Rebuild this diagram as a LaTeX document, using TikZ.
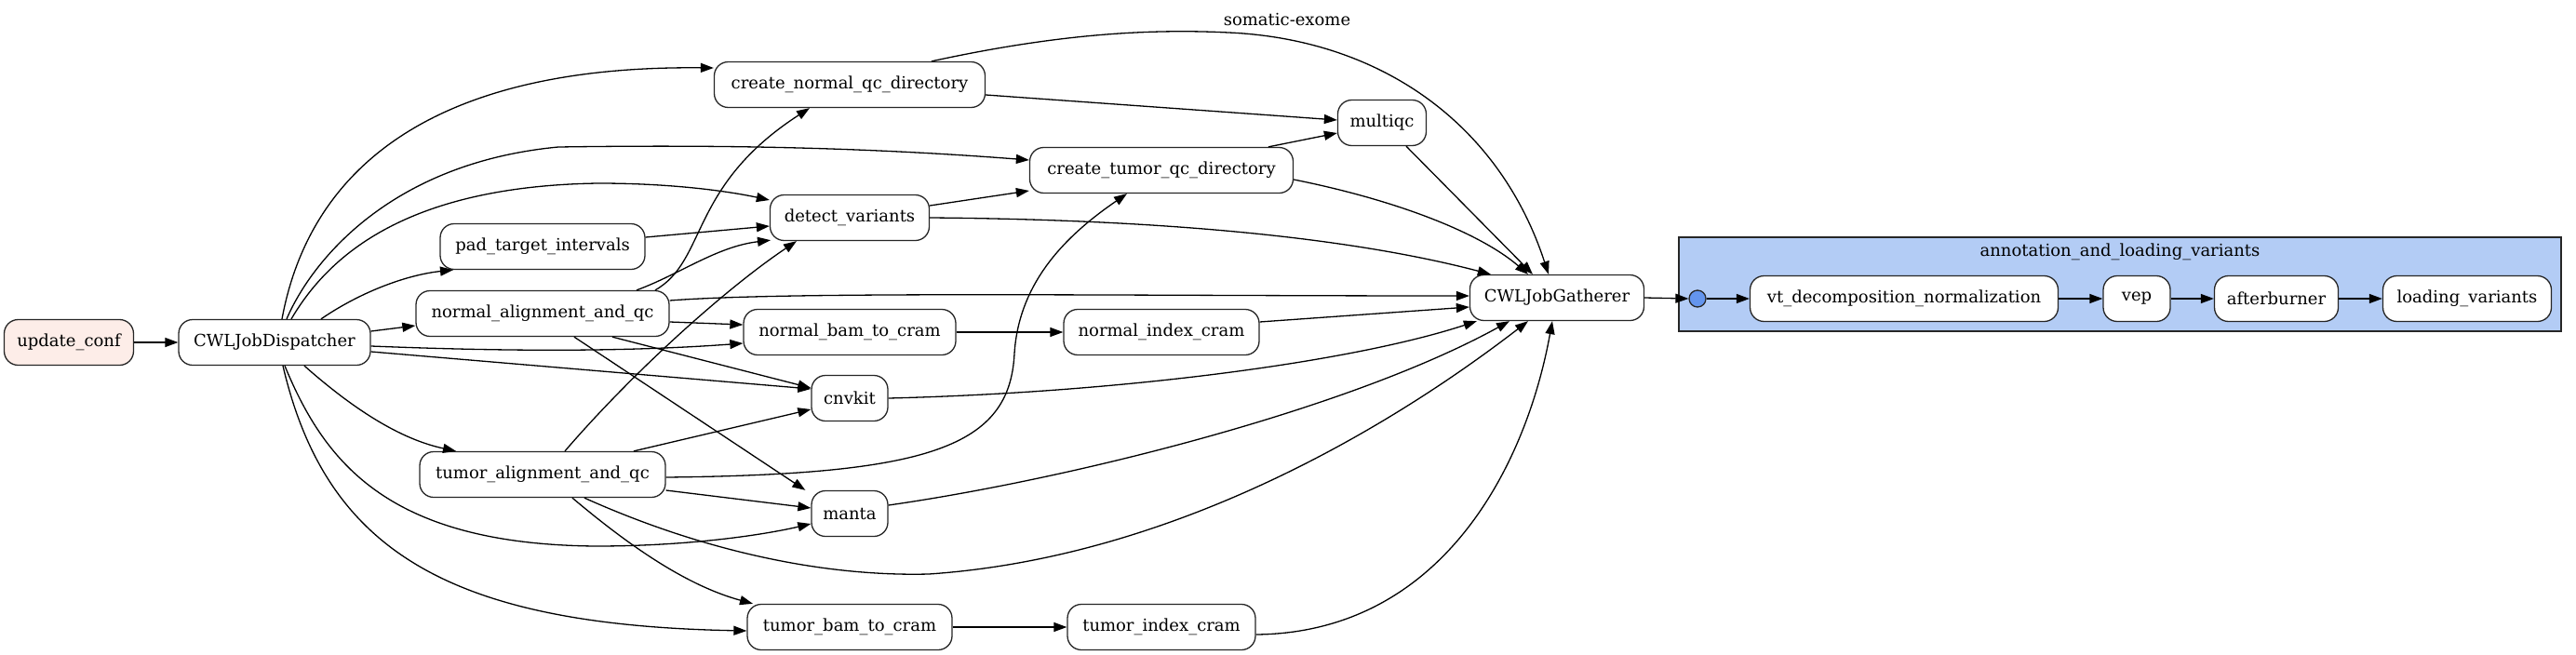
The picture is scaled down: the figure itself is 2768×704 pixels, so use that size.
\documentclass[tikz,border=0pt]{standalone}
\usepackage{fontspec}
\setmainfont{DejaVu Serif}
\usetikzlibrary{arrows.meta,calc}
\definecolor{confpink}{RGB}{253,237,232}
\definecolor{clusterblue}{RGB}{179,204,245}
\definecolor{dotblue}{RGB}{100,149,237}
\begin{document}
\begin{tikzpicture}[x=1pt,y=-1pt,
  job/.style={draw=black!85,line width=1.3pt,rounded corners=15pt,fill=white,minimum height=49pt,inner sep=0pt,font=\fontsize{18}{21}\selectfont},
  edge/.style={line width=1.3pt,-{Triangle[length=14pt,width=10pt]}},
  lbl/.style={font=\fontsize{18}{21}\selectfont,inner sep=0pt}]
\useasboundingbox (0,0) rectangle (2768,704);
% cluster
\draw[fill=clusterblue,draw=black!85,line width=1.3pt] (1804,255) rectangle (2752,356);
\node[lbl] (clab) at (2278,271) {annotation\_and\_loading\_variants};
\node[lbl] (title) at (1383,21) {somatic-exome};
% nodes
\node[job,fill=confpink,minimum width=139pt] (upd) at (74,368) {update\_conf};
\node[job,minimum width=206pt] (disp) at (295,368) {CWLJobDispatcher};
\node[job,minimum width=220pt] (pad) at (583,265) {pad\_target\_intervals};
\node[job,minimum width=272pt] (nal) at (583,337) {normal\_alignment\_and\_qc};
\node[job,minimum width=264pt] (tal) at (583,510) {tumor\_alignment\_and\_qc};
\node[job,minimum width=291pt] (cnq) at (913,91) {create\_normal\_qc\_directory};
\node[job,minimum width=283pt] (ctq) at (1248,183) {create\_tumor\_qc\_directory};
\node[job,minimum width=171pt] (dv) at (913,234) {detect\_variants};
\node[job,minimum width=228pt] (nbc) at (913,357) {normal\_bam\_to\_cram};
\node[job,minimum width=210pt] (nic) at (1248,357) {normal\_index\_cram};
\node[job,minimum width=82pt] (cnv) at (913,428) {cnvkit};
\node[job,minimum width=82pt] (man) at (913,552) {manta};
\node[job,minimum width=220pt] (tbc) at (913,674) {tumor\_bam\_to\_cram};
\node[job,minimum width=202pt] (tic) at (1248,674) {tumor\_index\_cram};
\node[job,minimum width=95pt] (mqc) at (1485,132) {multiqc};
\node[job,minimum width=187pt] (gat) at (1673,320) {CWLJobGatherer};
\node[draw=black!85,line width=1.3pt,fill=dotblue,circle,minimum size=18pt,inner sep=0pt] (circ) at (1824,321) {};
\node[job,minimum width=331pt] (vt) at (2046,321) {vt\_decomposition\_normalization};
\node[job,minimum width=72pt] (vep) at (2296,321) {vep};
\node[job,minimum width=133pt] (aft) at (2446,321) {afterburner};
\node[job,minimum width=181pt] (lv) at (2651,321) {loading\_variants};
% edges
\draw[edge] (upd.east) -- (disp.west);
\draw[edge] ($(disp.north)+(8,0)$) .. controls (335,170) and (480,70) .. ($(cnq.west)+(0,-18)$);
\draw[edge] ($(disp.north)+(13,0)$) .. controls (335,280) and (420,175) .. (600,158) .. controls (800,155) and (950,160) .. ($(ctq.west)+(0,-11)$);
\draw[edge] ($(disp.north)+(18,0)$) .. controls (350,280) and (430,200) .. (643,197) .. controls (720,197) and (780,205) .. ($(dv.west)+(0,-19)$);
\draw[edge] ($(disp.north)+(50,0)$) .. controls (390,312) and (440,295) .. ($(pad.south)+(-96,0)$);
\draw[edge] ($(disp.east)+(0,-12)$) -- ($(nal.west)+(0,13)$);
\draw[edge] ($(disp.east)+(0,4)$) .. controls (500,376) and (650,380) .. ($(nbc.west)+(0,12)$);
\draw[edge] ($(disp.east)+(0,10)$) -- ($(cnv.west)+(0,-10)$);
\draw[edge] ($(disp.south)+(32,0)$) .. controls (380,440) and (430,472) .. ($(tal.north)+(-93,0)$);
\draw[edge] ($(disp.south)+(11,0)$) .. controls (350,500) and (420,585) .. (640,587) .. controls (740,587) and (820,575) .. ($(man.west)+(0,11)$);
\draw[edge] ($(disp.south)+(9,0)$) .. controls (350,590) and (480,672) .. ($(tbc.west)+(0,4)$);
\draw[edge] ($(pad.east)+(0,-10)$) -- ($(dv.west)+(0,9)$);
\draw[edge] ($(nal.north)+(121,0)$) .. controls (760,280) and (740,200) .. ($(cnq.south)+(-43,0)$);
\draw[edge] ($(nal.north)+(101,0)$) .. controls (730,295) and (770,265) .. ($(dv.south)+(-85,-1)$);
\draw[edge] ($(nal.east)+(0,-14)$) .. controls (850,313) and (1200,318) .. ($(gat.west)+(0,-2)$);
\draw[edge] ($(nal.east)+(0,9)$) -- ($(nbc.west)+(0,-8)$);
\draw[edge] ($(nal.south)+(75,0)$) -- ($(cnv.west)+(0,-11)$);
\draw[edge] ($(nal.south)+(34,0)$) -- ($(man.north west)+(-6,0)$);
\draw[edge] ($(tal.north)+(24,0)$) .. controls (680,400) and (780,310) .. ($(dv.south)+(-57,0)$);
\draw[edge] ($(tal.north)+(98,0)$) -- ($(cnv.west)+(0,12)$);
\draw[edge] ($(tal.east)+(0,3)$) .. controls (1000,510) and (1085,480) .. (1090,380) .. controls (1095,300) and (1150,250) .. ($(ctq.south)+(-37,0)$);
\draw[edge] ($(tal.east)+(0,17)$) -- ($(man.west)+(0,-6)$);
\draw[edge] ($(tal.south)+(32,0)$) .. controls (680,590) and (740,630) .. ($(tbc.north)+(-104,0)$);
\draw[edge] ($(tal.south)+(45,0)$) .. controls (750,590) and (880,620) .. (998,617) .. controls (1250,600) and (1480,470) .. ($(gat.south)+(-31,0)$);
\draw[edge] ($(cnq.east)+(0,11)$) -- ($(mqc.west)+(0,-3)$);
\draw[edge] ($(cnq.north)+(88,0)$) .. controls (1120,40) and (1220,30) .. (1320,35) .. controls (1480,42) and (1610,130) .. ($(gat.north)+(-9,0)$);
\draw[edge] ($(ctq.north)+(115,0)$) -- ($(mqc.west)+(0,11)$);
\draw[edge] ($(ctq.east)+(0,10)$) .. controls (1500,215) and (1590,250) .. ($(gat.north)+(-31,0)$);
\draw[edge] ($(dv.east)+(0,-13)$) -- ($(ctq.west)+(0,22)$);
\draw[edge] (dv.east) .. controls (1250,236) and (1450,255) .. ($(gat.north west)+(23,0)$);
\draw[edge] ($(mqc.south)+(26,0)$) -- ($(gat.north)+(-26,0)$);
\draw[edge] (nbc.east) -- (nic.west);
\draw[edge] ($(nic.east)+(0,-11)$) -- ($(gat.west)+(0,10)$);
\draw[edge] (cnv.east) .. controls (1200,422) and (1450,390) .. ($(gat.south west)+(8,0)$);
\draw[edge] ($(man.east)+(0,-9)$) .. controls (1150,515) and (1450,440) .. ($(gat.south)+(-51,0)$);
\draw[edge] (tbc.east) -- (tic.west);
\draw[edge] ($(tic.east)+(0,8)$) .. controls (1550,680) and (1640,500) .. ($(gat.south)+(-5,0)$);
\draw[edge] (gat.east) -- (circ.west);
\draw[edge] (circ.east) -- (vt.west);
\draw[edge] (vt.east) -- (vep.west);
\draw[edge] (vep.east) -- (aft.west);
\draw[edge] (aft.east) -- (lv.west);
\end{tikzpicture}
\end{document}
